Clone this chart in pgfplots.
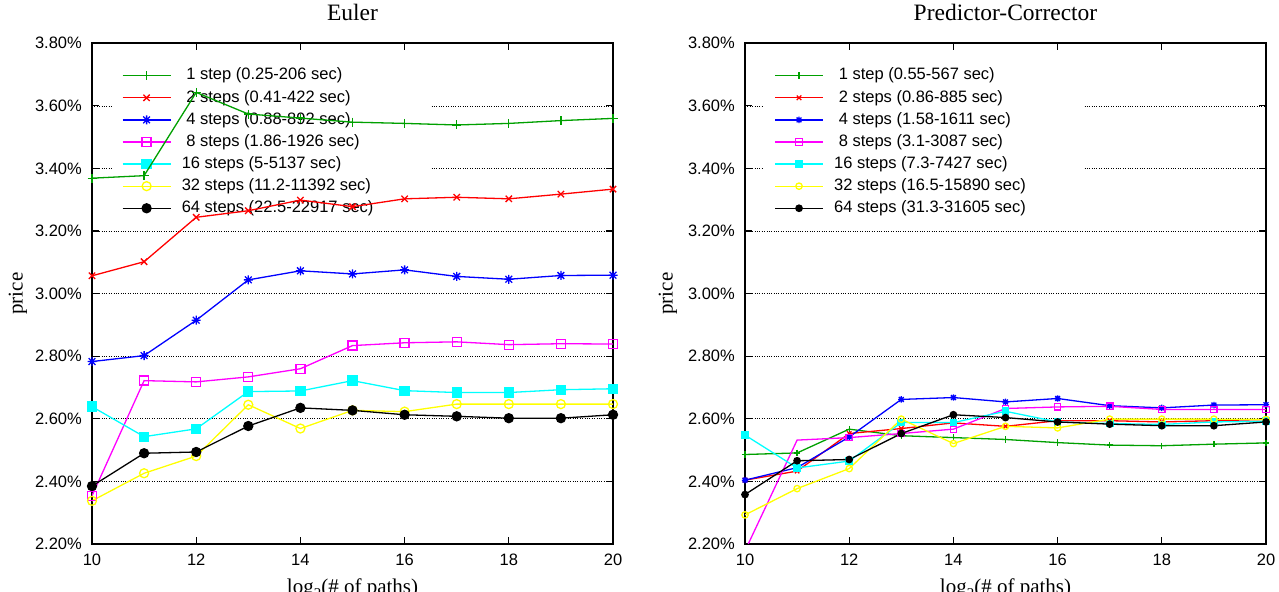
\documentclass[border=0pt]{standalone}
\usepackage{fontspec}
\setmainfont{Liberation Serif}
\newfontfamily\arial{Liberation Sans}
\usepackage{pgfplots}
\pgfplotsset{compat=1.18}
\definecolor{gpgreen}{RGB}{0,160,0}
\definecolor{gpred}{RGB}{255,0,0}
\definecolor{gpblue}{RGB}{0,0,255}
\definecolor{gpmag}{RGB}{255,0,255}
\definecolor{gpcyan}{RGB}{0,255,255}
\definecolor{gpyellow}{RGB}{255,255,0}
\definecolor{gpblack}{RGB}{0,0,0}
\pgfdeclareplotmark{gpstar}{%
 \pgfpathmoveto{\pgfqpoint{-\pgfplotmarksize}{0pt}}\pgfpathlineto{\pgfqpoint{\pgfplotmarksize}{0pt}}%
 \pgfpathmoveto{\pgfqpoint{0pt}{-\pgfplotmarksize}}\pgfpathlineto{\pgfqpoint{0pt}{\pgfplotmarksize}}%
 \pgfpathmoveto{\pgfqpoint{-.75\pgfplotmarksize}{-.75\pgfplotmarksize}}\pgfpathlineto{\pgfqpoint{.75\pgfplotmarksize}{.75\pgfplotmarksize}}%
 \pgfpathmoveto{\pgfqpoint{-.75\pgfplotmarksize}{.75\pgfplotmarksize}}\pgfpathlineto{\pgfqpoint{.75\pgfplotmarksize}{-.75\pgfplotmarksize}}%
 \pgfusepathqstroke}
\pgfplotsset{
 layers/gplayers/.define layer set={axis background,axis grid,pre main,axis ticks,axis lines,axis tick labels,axis descriptions,main,axis foreground}{/pgfplots/layers/standard},
 gpaxis/.style={
  set layers=gplayers,
  scale only axis, width=521bp, height=500.7bp,
  xmin=10,xmax=20,ymin=2.2,ymax=3.8,
  xtick={10,12,14,16,18,20}, xticklabels={10,12,14,16,18,20},
  ytick={2.2,2.4,2.6,2.8,3.0,3.2,3.4,3.6,3.8},
  yticklabels={2.20\%,2.40\%,2.60\%,2.80\%,3.00\%,3.20\%,3.40\%,3.60\%,3.80\%},
  tick align=inside, xtick pos=both, ytick pos=both,
  major tick length=7bp,
  every tick/.style={black, line width=1.2bp},
  axis line style={line width=1.6bp},
  ymajorgrids, major grid style={dotted, black, line width=0.7bp},
  tick label style={font=\arial\fontsize{16.5bp}{18bp}\selectfont},
  xticklabel style={anchor=north, inner sep=0pt, yshift=-10bp},
  yticklabel style={anchor=east, inner sep=0pt, xshift=-10bp},
  title style={font=\fontsize{23.5bp}{26bp}\selectfont, at={(rel axis cs:0.5,1)}, anchor=base, yshift=16.6bp, inner sep=0pt},
  xlabel style={font=\fontsize{21bp}{24bp}\selectfont, at={(rel axis cs:0.5,0)}, anchor=base, yshift=-49bp, inner sep=0pt},
  ylabel style={font=\fontsize{21bp}{24bp}\selectfont, anchor=center, inner sep=0pt},
  xlabel={log\raisebox{-0.25em}{\fontsize{15bp}{15bp}\selectfont 2}(\# of paths)},
  ylabel={price},
  legend style={draw=none, fill=none, inner sep=0pt, outer sep=0pt, anchor=north west,
    font=\arial\fontsize{16.5bp}{18bp}\selectfont, row sep=6.6bp, /tikz/column sep=10.5bp,
    nodes={inner sep=0pt, text height=12bp, text depth=3.5bp}},
  legend cell align=left,
  legend image code/.code={\draw[mark=none] (0bp,0bp) -- (48bp,0bp); \draw[mark indices={1}] plot coordinates {(24bp,0bp)};},
  every axis plot/.append style={line width=1.3bp, mark options={solid, line width=1.3bp}},
 },
}
\begin{document}
\begin{tikzpicture}
% ---------------- Euler ----------------
\begin{axis}[gpaxis, at={(92bp,48bp)}, anchor=south west, title={Euler},
  ylabel style={at={(rel axis cs:-0.142,0.5)}},
  legend style={at={(0.0575,0.9508)}},
  every axis plot/.append style={mark size=4.5bp}]
\addplot[draw=none, fill=white, mark=none, forget plot, on layer=pre main] coordinates {(10.38,3.229) (16.48,3.229) (16.48,3.746) (10.38,3.746)} -- cycle;
\addplot[color=gpgreen, mark=+] coordinates {(10,3.369)(11,3.377)(12,3.643)(13,3.574)(14,3.561)(15,3.548)(16,3.544)(17,3.539)(18,3.544)(19,3.553)(20,3.560)};
\addlegendentry{\hspace*{4.6bp}1 step (0.25-206 sec)}
\addplot[color=gpred, mark=x] coordinates {(10,3.057)(11,3.102)(12,3.244)(13,3.265)(14,3.299)(15,3.278)(16,3.303)(17,3.308)(18,3.303)(19,3.318)(20,3.334)};
\addlegendentry{\hspace*{4.6bp}2 steps (0.41-422 sec)}
\addplot[color=gpblue, mark=gpstar] coordinates {(10,2.783)(11,2.802)(12,2.915)(13,3.044)(14,3.073)(15,3.063)(16,3.076)(17,3.055)(18,3.046)(19,3.058)(20,3.059)};
\addlegendentry{\hspace*{4.6bp}4 steps (0.88-892 sec)}
\addplot[color=gpmag, mark=square] coordinates {(10,2.354)(11,2.722)(12,2.718)(13,2.734)(14,2.760)(15,2.834)(16,2.843)(17,2.846)(18,2.837)(19,2.840)(20,2.839)};
\addlegendentry{\hspace*{4.6bp}8 steps (1.86-1926 sec)}
\addplot[color=gpcyan, mark=square*] coordinates {(10,2.639)(11,2.543)(12,2.568)(13,2.687)(14,2.689)(15,2.722)(16,2.690)(17,2.684)(18,2.684)(19,2.693)(20,2.696)};
\addlegendentry{16 steps (5-5137 sec)}
\addplot[color=gpyellow, mark=o] coordinates {(10,2.338)(11,2.426)(12,2.481)(13,2.645)(14,2.569)(15,2.627)(16,2.623)(17,2.647)(18,2.647)(19,2.647)(20,2.647)};
\addlegendentry{32 steps (11.2-11392 sec)}
\addplot[color=gpblack, mark=*] coordinates {(10,2.385)(11,2.490)(12,2.494)(13,2.577)(14,2.635)(15,2.627)(16,2.613)(17,2.608)(18,2.602)(19,2.602)(20,2.613)};
\addlegendentry{64 steps (22.5-22917 sec)}
\end{axis}
% ---------------- Predictor-Corrector ----------------
\begin{axis}[gpaxis, at={(745bp,48bp)}, anchor=south west, title={Predictor-Corrector},
  ylabel style={at={(rel axis cs:-0.148,0.5)}},
  legend style={at={(0.0564,0.9508)}},
  every axis plot/.append style={mark size=3.2bp}]
\addplot[draw=none, fill=white, mark=none, forget plot, on layer=pre main] coordinates {(10.36,3.229) (16.5,3.229) (16.5,3.746) (10.36,3.746)} -- cycle;
\addplot[color=gpgreen, mark=+] coordinates {(10,2.486)(11,2.491)(12,2.567)(13,2.546)(14,2.540)(15,2.534)(16,2.524)(17,2.516)(18,2.514)(19,2.519)(20,2.523)};
\addlegendentry{\hspace*{4.6bp}1 step (0.55-567 sec)}
\addplot[color=gpred, mark=x] coordinates {(10,2.404)(11,2.433)(12,2.553)(13,2.569)(14,2.587)(15,2.576)(16,2.594)(17,2.594)(18,2.590)(19,2.594)(20,2.598)};
\addlegendentry{\hspace*{4.6bp}2 steps (0.86-885 sec)}
\addplot[color=gpblue, mark=gpstar] coordinates {(10,2.404)(11,2.444)(12,2.542)(13,2.662)(14,2.668)(15,2.654)(16,2.665)(17,2.642)(18,2.635)(19,2.644)(20,2.645)};
\addlegendentry{\hspace*{4.6bp}4 steps (1.58-1611 sec)}
\addplot[color=gpmag, mark=square, mark indices={2,3,4,5,6,7,8,9,10,11}] coordinates {(10,2.178)(11,2.532)(12,2.540)(13,2.553)(14,2.567)(15,2.633)(16,2.638)(17,2.640)(18,2.630)(19,2.630)(20,2.630)};
\addlegendentry{\hspace*{4.6bp}8 steps (3.1-3087 sec)}
\addplot[color=gpcyan, mark=square*] coordinates {(10,2.548)(11,2.443)(12,2.465)(13,2.588)(14,2.588)(15,2.624)(16,2.590)(17,2.585)(18,2.582)(19,2.590)(20,2.592)};
\addlegendentry{16 steps (7.3-7427 sec)}
\addplot[color=gpyellow, mark=o] coordinates {(10,2.293)(11,2.377)(12,2.441)(13,2.599)(14,2.521)(15,2.576)(16,2.571)(17,2.599)(18,2.599)(19,2.599)(20,2.598)};
\addlegendentry{32 steps (16.5-15890 sec)}
\addplot[color=gpblack, mark=*] coordinates {(10,2.358)(11,2.466)(12,2.470)(13,2.553)(14,2.613)(15,2.604)(16,2.590)(17,2.583)(18,2.578)(19,2.578)(20,2.590)};
\addlegendentry{64 steps (31.3-31605 sec)}
\end{axis}
\pgfresetboundingbox
\path[use as bounding box] (0,0) rectangle (1279bp,592bp);
\end{tikzpicture}
\end{document}
